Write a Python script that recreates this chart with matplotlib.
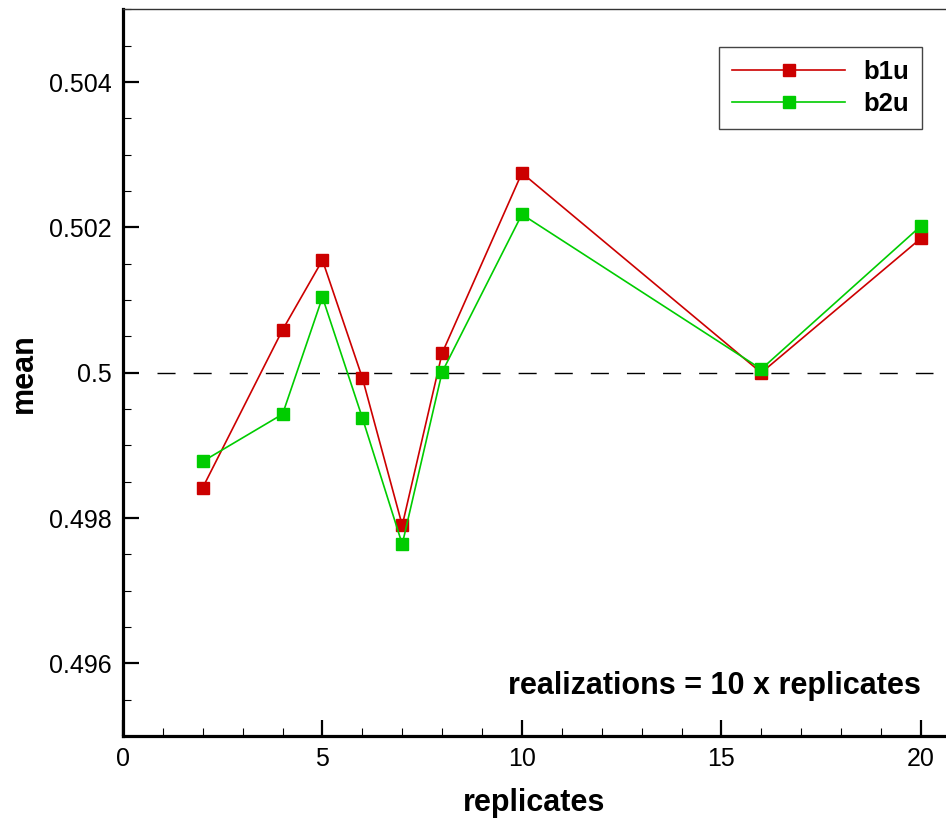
import matplotlib
matplotlib.use("Agg")
import matplotlib.pyplot as plt
from matplotlib.ticker import MultipleLocator, FuncFormatter

plt.rcParams['font.family'] = ['Liberation Sans', 'DejaVu Sans']

replicates = [2, 4, 5, 6, 7, 8, 10, 16, 20]
b1u = [0.49842, 0.50059, 0.50155, 0.49993, 0.49790, 0.50027, 0.50275, 0.50000, 0.50185]
b2u = [0.49878, 0.49943, 0.50104, 0.49938, 0.49764, 0.50001, 0.50218, 0.50005, 0.50202]
ref_value = 0.5
ref_span = (0.85, 20.3)

xlim = (0, 20.63)
ylim = (0.495, 0.505)

RED = '#cc0000'
GREEN = '#00cc00'

fig = plt.figure(figsize=(9.46, 8.18), dpi=100)
ax = fig.add_axes([0.130, 0.1002, 0.870, 0.8882])

ax.plot(ref_span, [ref_value, ref_value], color='black', lw=1.0,
        linestyle=(0, (13, 13)), zorder=1)
ax.plot(replicates, b1u, color=RED, lw=1.2, marker='s', ms=8,
        mec=RED, mfc=RED, label='b1u', zorder=3)
ax.plot(replicates, b2u, color=GREEN, lw=1.2, marker='s', ms=8,
        mec=GREEN, mfc=GREEN, label='b2u', zorder=3)

ax.set_xlim(*xlim)
ax.set_ylim(*ylim)

ax.xaxis.set_major_locator(MultipleLocator(5))
ax.xaxis.set_minor_locator(MultipleLocator(1))
ax.yaxis.set_major_locator(MultipleLocator(0.002))
ax.yaxis.set_minor_locator(MultipleLocator(0.0005))
ax.yaxis.set_major_formatter(FuncFormatter(lambda v, p: f"{round(v, 6):g}"))

ax.tick_params(which='major', direction='in', length=11.5, width=1.6,
               labelsize=18, pad=8, top=False, right=False)
ax.tick_params(which='minor', direction='in', length=6, width=0.8,
               top=False, right=False)

for s in ['left', 'bottom']:
    ax.spines[s].set_linewidth(2.3)
    ax.spines[s].set_color('black')
ax.spines['top'].set_linewidth(1.0)
ax.spines['top'].set_color('#333333')
ax.spines['right'].set_visible(False)

ax.set_xlabel('replicates', fontsize=22, fontweight='bold', labelpad=12)
ax.set_ylabel('mean', fontsize=22, fontweight='bold', labelpad=7.5)

ax.text(0.9696, 0.069, 'realizations = 10 x replicates', transform=ax.transAxes,
        ha='right', va='center', fontsize=22, fontweight='bold')

leg = ax.legend(loc='upper right', bbox_to_anchor=(0.971, 0.9485),
                borderaxespad=0, prop={'weight': 'bold', 'size': 18.5},
                handlelength=4.4, handletextpad=0.7, labelspacing=0.3,
                fancybox=False, framealpha=1, edgecolor='#444444',
                borderpad=0.52, markerscale=1.0)
leg.get_frame().set_linewidth(1.0)

fig.savefig('out.png', dpi=100)
